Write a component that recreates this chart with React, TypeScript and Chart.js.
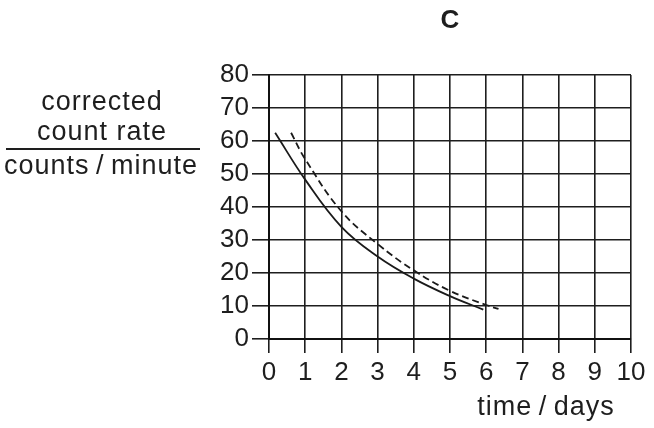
import React, { useRef, useEffect } from "react";
import { Chart, registerables } from "chart.js";

Chart.register(...registerables);

// readings
const solidDays = [0.17, 1, 2, 3, 4, 5, 5.92];
const solidRate = [62.5, 48.3, 34, 25, 18.3, 13, 8.9];
const dashedDays = [0.61, 1, 2, 3, 4, 5, 6, 6.34];
const dashedRate = [62.5, 54.5, 38.7, 28.8, 20.8, 14.6, 10.3, 9.1];

const xTicks = [0, 1, 2, 3, 4, 5, 6, 7, 8, 9, 10];
const yTicks = [0, 10, 20, 30, 40, 50, 60, 70, 80];

const title = "C";
const yTitleTop = ["corrected", "count rate"];
const yTitleBottom = "counts\u2009/\u2009minute";
const xTitle = "time\u2009/\u2009days";

const FONT = '"Liberation Sans", Arial, sans-serif';
const INK = "#1e1e1e";

const labelsPlugin = {
    id: "labels",
    afterDraw(chart: any) {
        const ctx: any = chart.ctx;
        const area = chart.chartArea;
        ctx.save();
        ctx.fillStyle = INK;
        ctx.textAlign = "center";
        ctx.textBaseline = "middle";

        ctx.font = `bold 26px ${FONT}`;
        ctx.fillText(title, (area.left + area.right) / 2, 21);

        ctx.font = `27px ${FONT}`;
        ctx.letterSpacing = "1px";
        ctx.fillText(yTitleTop[0], 102, 103);
        ctx.fillText(yTitleTop[1], 102, 133);
        ctx.fillText(yTitleBottom, 101, 167);

        ctx.strokeStyle = INK;
        ctx.lineWidth = 2;
        ctx.beginPath();
        ctx.moveTo(6, 149);
        ctx.lineTo(200, 149);
        ctx.stroke();

        ctx.fillText(xTitle, 546, 408);
        ctx.restore();
    },
};

const ChartC = () => {
    const chartRef = useRef<HTMLCanvasElement>(null);

    useEffect(() => {
        if (!chartRef.current) return;

        const chart = new Chart(chartRef.current, {
            type: "line",
            data: {
                datasets: [
                    {
                        label: "solid",
                        data: solidDays.map((d, i) => ({ x: d, y: solidRate[i] })),
                        borderColor: "#1a1a1a",
                        borderWidth: 1.8,
                        pointRadius: 0,
                        tension: 0.4,
                        fill: false,
                    },
                    {
                        label: "dashed",
                        data: dashedDays.map((d, i) => ({ x: d, y: dashedRate[i] })),
                        borderColor: "#1a1a1a",
                        borderWidth: 1.8,
                        borderDash: [7, 4],
                        pointRadius: 0,
                        tension: 0.4,
                        fill: false,
                    },
                ],
            },
            options: {
                animation: false,
                responsive: true,
                maintainAspectRatio: false,
                layout: { padding: { left: 0, top: 75, right: 23, bottom: 0 } },
                plugins: {
                    legend: { display: false },
                    tooltip: { enabled: false },
                },
                scales: {
                    x: {
                        type: "linear",
                        min: 0,
                        max: 10,
                        afterFit: (s: any) => { s.height = 89; },
                        afterBuildTicks: (s: any) => { s.ticks = xTicks.map((v) => ({ value: v })); },
                        grid: { color: INK, lineWidth: 1.6, tickLength: 14, tickColor: INK },
                        border: { color: "#111", width: 2 },
                        ticks: { color: INK, padding: 4, autoSkip: false, maxRotation: 0, font: { family: FONT, size: 26 } },
                    },
                    y: {
                        type: "linear",
                        min: 0,
                        max: 80,
                        afterFit: (s: any) => { s.width = 269; },
                        afterBuildTicks: (s: any) => { s.ticks = yTicks.map((v) => ({ value: v })); },
                        grid: { color: INK, lineWidth: 1.6, tickLength: 17, tickColor: INK },
                        border: { color: "#111", width: 2 },
                        ticks: { color: INK, padding: 3, autoSkip: false, font: { family: FONT, size: 26 } },
                    },
                },
            },
            plugins: [labelsPlugin],
        } as any);

        return () => chart.destroy();
    }, []);

    return <canvas ref={chartRef} />;
};

export default function App() {
    return (
        <div style={{ position: "fixed", left: 0, top: 0, width: 654, height: 428, background: "#fff" }}>
            <ChartC />
        </div>
    );
}
